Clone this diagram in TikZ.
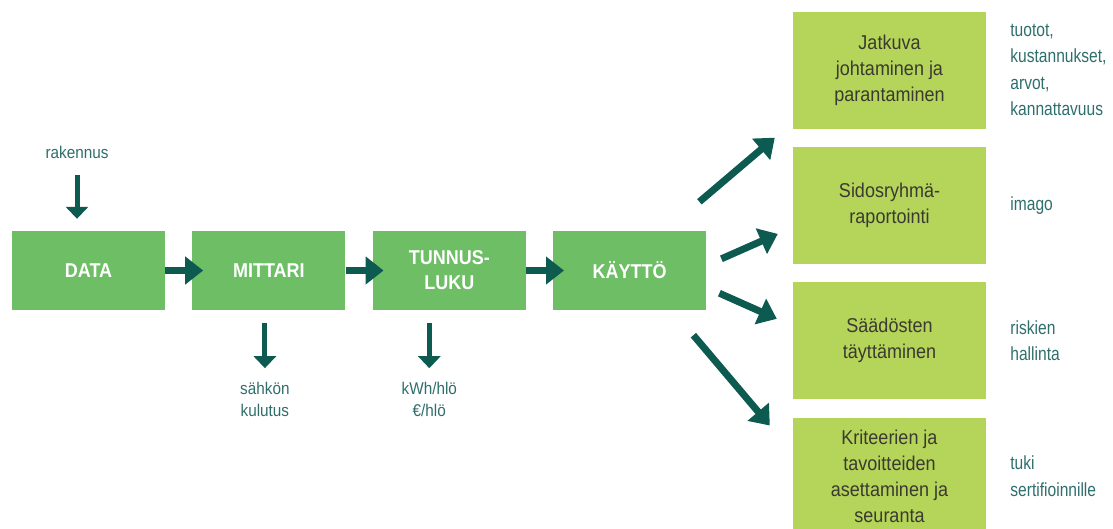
\documentclass[tikz,border=0pt]{standalone}
\usepackage{fontspec}
\setmainfont{Liberation Sans}[FakeStretch=0.9]
\newfontfamily\kapea{Liberation Sans}[FakeStretch=0.82]
\usepackage{tikz}
\usetikzlibrary{arrows.meta,positioning,calc}
\definecolor{vihrea}{HTML}{6DBE65}
\definecolor{lime}{HTML}{B5D45A}
\definecolor{tumma}{HTML}{0D5A51}
\definecolor{petroli}{HTML}{2E6E6C}
\definecolor{teksti}{HTML}{3A3A30}
\tikzset{
  vaihe/.style={rectangle, fill=vihrea, text=white, font=\fontsize{20}{25}\selectfont\bfseries,
                align=center, minimum width=153pt, minimum height=79pt, inner sep=0pt},
  kayttoala/.style={rectangle, fill=lime, text=teksti, font=\fontsize{20}{26}\selectfont,
                align=center, minimum width=193pt, minimum height=117pt, inner sep=0pt},
  selite/.style={font=\kapea\fontsize{19}{26.5}\selectfont, text=petroli, align=left, inner sep=0pt},
  pieni/.style={font=\fontsize{17}{22}\selectfont, text=petroli, align=center, inner sep=0pt},
  arr/.style={-{Triangle[length=18pt,width=27pt]}, line width=7pt, draw=tumma},
  arrpieni/.style={-{Triangle[length=12pt,width=22pt]}, line width=5pt, draw=tumma},
}
\begin{document}
\begin{tikzpicture}[x=1pt, y=1pt, node distance=27pt]
  \useasboundingbox (0,0) rectangle (1113,-528);
  \node[vaihe] (data) at (88.5,-270.5) {DATA};
  \node[vaihe, right=of data] (mittari) {MITTARI};
  \node[vaihe, right=of mittari] (tunnus) {TUNNUS-\\LUKU};
  \node[vaihe, right=of tunnus] (kaytto) {KÄYTTÖ};
  \draw[arr, shorten >=-11pt] (data) -- (mittari);
  \draw[arr, shorten >=-11pt] (mittari) -- (tunnus);
  \draw[arr, shorten >=-11pt] (tunnus) -- (kaytto);

  \node[pieni, above=72pt of data, xshift=-11.5pt] (rakennus) {rakennus};
  \node[pieni, below=71.6pt of mittari, xshift=-4pt] (sahko) {sähkön\\kulutus};
  \node[pieni, below=71.6pt of tunnus, xshift=-20pt] (kwh) {kWh/hlö\\€/hlö};
  \draw[arrpieni, shorten <=16pt, shorten >=12pt] (rakennus) -- (rakennus |- data.north);
  \draw[arrpieni, shorten <=13pt, shorten >=13.6pt] (sahko |- mittari.south) -- (sahko);
  \draw[arrpieni, shorten <=13pt, shorten >=13.6pt] (kwh |- tunnus.south) -- (kwh);

  \node[kayttoala] (jatkuva) at (889.5,-70) {Jatkuva\\johtaminen ja\\parantaminen};
  \node[kayttoala, below=18pt of jatkuva] (sidos) {Sidosryhmä-\\raportointi};
  \node[kayttoala, below=18pt of sidos] (saadokset) {Säädösten\\täyttäminen};
  \node[kayttoala, below=18pt of saadokset] (kriteerit) {Kriteerien ja\\tavoitteiden\\asettaminen ja\\seuranta};

  \node[selite, right=24pt of jatkuva] (tuotot) {tuotot,\\kustannukset,\\arvot,\\kannattavuus};
  \node[selite, right=24pt of sidos] (imago) {imago};
  \node[selite, right=24pt of saadokset] (riskit) {riskien\\hallinta};
  \node[selite, right=24pt of kriteerit] (tuki) {tuki\\sertifioinnille};

  \draw[arr] ([shift={(-7pt,29pt)}]kaytto.north east) -- ([shift={(-18pt,-9pt)}]jatkuva.south west);
  \draw[arr] ([shift={(15pt,-28pt)}]kaytto.north east) -- ([shift={(-15pt,-28.5pt)}]sidos.west);
  \draw[arr] ([shift={(13pt,17pt)}]kaytto.south east) -- ([shift={(-16pt,22pt)}]saadokset.west);
  \draw[arr] ([shift={(-13pt,-25pt)}]kaytto.south east) -- ([shift={(-23pt,-8pt)}]kriteerit.north west);
\end{tikzpicture}
\end{document}
